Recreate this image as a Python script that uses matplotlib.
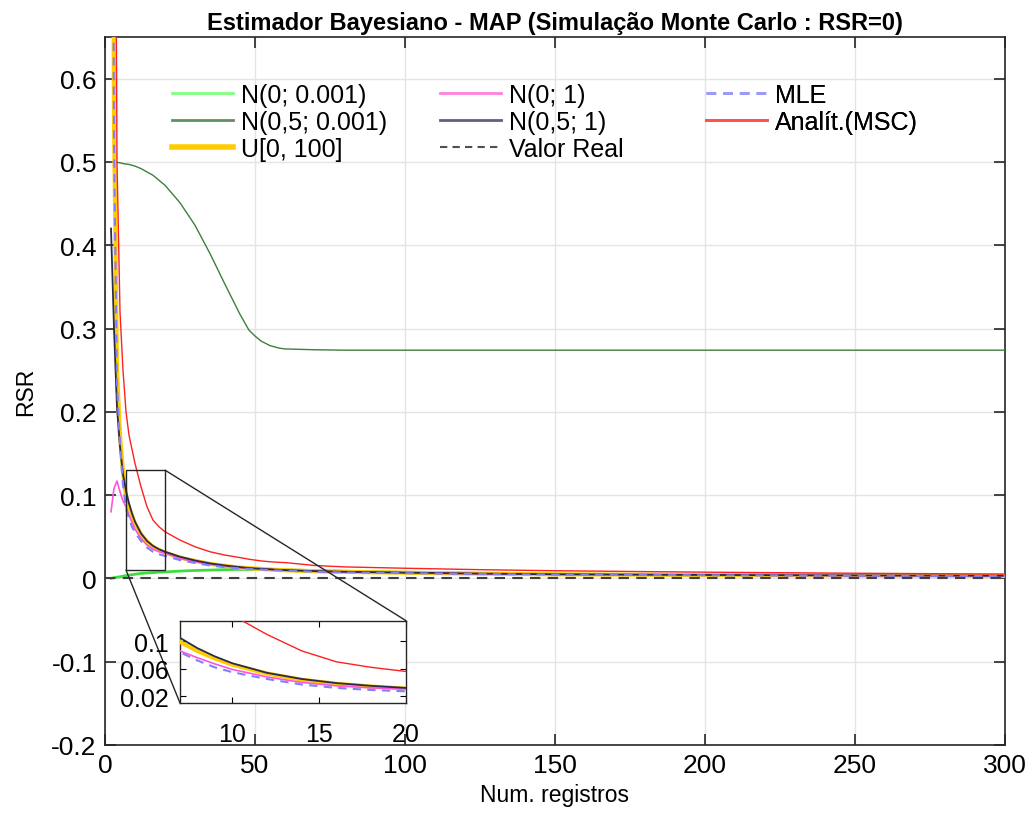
import numpy as np
import matplotlib
matplotlib.use("Agg")
import matplotlib.pyplot as plt
from matplotlib.patches import Rectangle, ConnectionPatch
from matplotlib.lines import Line2D

plt.rcParams['font.family'] = ['Liberation Sans', 'DejaVu Sans']

# ---------------- data ----------------
n_reg = [2, 3, 4, 5, 6, 7, 8, 9, 10, 12, 14, 16, 18, 20, 25, 30, 35, 40, 45, 48,
         50, 52, 55, 58, 60, 70, 80, 100, 125, 150, 200, 250, 300]

n0_0001 = [0.0, 0.0008, 0.0015, 0.002, 0.0027, 0.0033, 0.004, 0.0045, 0.005, 0.006,
           0.0065, 0.007, 0.0075, 0.0078, 0.0088, 0.0095, 0.010, 0.0105, 0.0108, 0.0108,
           0.0108, 0.0107, 0.0106, 0.0104, 0.0102, 0.0094, 0.0086, 0.0074, 0.0060, 0.0051,
           0.0042, 0.0036, 0.0032]
n05_0001 = [0.500, 0.500, 0.4995, 0.499, 0.498, 0.4975, 0.497, 0.496, 0.495, 0.492,
            0.488, 0.484, 0.478, 0.472, 0.451, 0.424, 0.390, 0.353, 0.317, 0.298,
            0.291, 0.285, 0.2795, 0.2765, 0.2755, 0.2745, 0.274, 0.274, 0.274, 0.274,
            0.274, 0.274, 0.274]
u_0_100 = [1.6, 0.55, 0.25, 0.172, 0.128, 0.099, 0.086, 0.075, 0.066, 0.053,
           0.044, 0.038, 0.034, 0.031, 0.025, 0.021, 0.0175, 0.015, 0.013, 0.0123,
           0.0118, 0.0114, 0.0107, 0.0101, 0.0098, 0.0086, 0.0078, 0.0068, 0.0057, 0.0049,
           0.0041, 0.0035, 0.0031]
n0_1 = [0.08, 0.108, 0.117, 0.104, 0.093, 0.086, 0.076, 0.067, 0.059, 0.048,
        0.040, 0.035, 0.032, 0.0305, 0.024, 0.020, 0.017, 0.0145, 0.0128, 0.012,
        0.0115, 0.0111, 0.0105, 0.0099, 0.0096, 0.0085, 0.0076, 0.0066, 0.0055, 0.0048,
        0.0040, 0.0034, 0.0030]
n05_1 = [0.42, 0.30, 0.205, 0.158, 0.125, 0.105, 0.090, 0.078, 0.068, 0.054,
         0.045, 0.039, 0.035, 0.032, 0.026, 0.0215, 0.018, 0.0155, 0.0135, 0.0125,
         0.012, 0.0116, 0.011, 0.0103, 0.010, 0.0088, 0.0080, 0.0070, 0.0058, 0.0050,
         0.0042, 0.0036, 0.0032]
mle = [1.6, 0.52, 0.235, 0.16, 0.112, 0.084, 0.072, 0.062, 0.055, 0.045,
       0.037, 0.032, 0.029, 0.027, 0.022, 0.0185, 0.0155, 0.0135, 0.012, 0.0114,
       0.011, 0.0106, 0.010, 0.0095, 0.0092, 0.0080, 0.0072, 0.0063, 0.0053, 0.0046,
       0.0038, 0.0033, 0.0029]
analit = [2.5, 1.25, 0.50, 0.32, 0.25, 0.20, 0.172, 0.155, 0.138, 0.110,
          0.086, 0.070, 0.062, 0.056, 0.046, 0.038, 0.032, 0.028, 0.025, 0.023,
          0.022, 0.021, 0.020, 0.0193, 0.019, 0.0155, 0.0138, 0.0122, 0.0105, 0.0092,
          0.0075, 0.0062, 0.0052]
valor_real = 0.0

title = 'Estimador Bayesiano - MAP (Simulação Monte Carlo : RSR=0)'
xlabel = 'Num. registros'
ylabel = 'RSR'
xticks = [0, 50, 100, 150, 200, 250, 300]
yticks = [-0.2, -0.1, 0, 0.1, 0.2, 0.3, 0.4, 0.5, 0.6]
ytick_labels = ['-0.2', '-0.1', '0', '0.1', '0.2', '0.3', '0.4', '0.5', '0.6']
ins_xticks = [10, 15, 20]
ins_yticks = [0.02, 0.06, 0.1]
ins_ytick_labels = ['0.02', '0.06', '0.1']

# ---------------- styles ----------------
styles = {
    'N(0; 0.001)': dict(color='#3ddc3d', lw=2.0),
    'N(0,5; 0.001)': dict(color='#3d7f3d', lw=1.0),
    'U[0, 100]': dict(color='#ffcc00', lw=3.0),
    'N(0; 1)': dict(color='#ff55dd', lw=1.2),
    'N(0,5; 1)': dict(color='#2a2a4a', lw=1.3),
    'Valor Real': dict(color='#404040', lw=1.5, ls=(0, (5, 3.5))),
    'MLE': dict(color='#8080ff', lw=1.5, ls=(0, (4, 3))),
    'Analít.(MSC)': dict(color='#ff2020', lw=1.0),
}
legend_styles = {
    'N(0; 0.001)': dict(color='#80ff80', lw=2.0),
    'N(0,5; 0.001)': dict(color='#609060', lw=2.0),
    'U[0, 100]': dict(color='#ffcc00', lw=4.0),
    'N(0; 1)': dict(color='#ff80e0', lw=2.0),
    'N(0,5; 1)': dict(color='#606080', lw=2.0),
    'Valor Real': dict(color='#505050', lw=1.5, ls=(0, (3.5, 2.5))),
    'MLE': dict(color='#9a9aff', lw=2.0, ls=(0, (3.5, 2.5))),
    'Analít.(MSC)': dict(color='#ff5050', lw=2.0),
}

series = {
    'N(0; 0.001)': n0_0001,
    'N(0,5; 0.001)': n05_0001,
    'U[0, 100]': u_0_100,
    'N(0; 1)': n0_1,
    'N(0,5; 1)': n05_1,
    'MLE': mle,
    'Analít.(MSC)': analit,
}
draw_order = ['N(0; 0.001)', 'N(0,5; 0.001)', 'U[0, 100]', 'N(0; 1)', 'N(0,5; 1)',
              'MLE', 'Analít.(MSC)']

fig = plt.figure(figsize=(10.32, 8.28), dpi=100)
ax = fig.add_axes([105/1032, 1-746/828, 900/1032, 708/828])

def draw(a):
    for k in draw_order:
        a.plot(n_reg, series[k], **styles[k], zorder=3)
    a.axhline(valor_real, **styles['Valor Real'], zorder=4)

draw(ax)
ax.set_xlim(0, 300)
ax.set_ylim(-0.2, 0.65)
ax.set_xticks(xticks)
ax.set_yticks(yticks)
ax.set_yticklabels(ytick_labels)
ax.grid(True, color='#e4e4e4', lw=1.0, zorder=0)
ax.set_axisbelow(True)
ax.tick_params(direction='in', length=8, width=1.2, labelsize=19, top=True, right=True,
               color='#262626', pad=6)
for s in ax.spines.values():
    s.set_color('#262626')
    s.set_linewidth(1.2)
ax.set_title(title, fontsize=17, fontweight='bold', pad=6)
ax.set_xlabel(xlabel, fontsize=16.5, labelpad=4)
ax.set_ylabel(ylabel, fontsize=16.5, labelpad=10)

# legend: three columns
cols = [['N(0; 0.001)', 'N(0,5; 0.001)', 'U[0, 100]'],
        ['N(0; 1)', 'N(0,5; 1)', 'Valor Real'],
        ['MLE', 'Analít.(MSC)']]
col_x = [(172-105)/900, (440-105)/900, (706-105)/900]
for i, c in enumerate(cols):
    hs = [Line2D([], [], **legend_styles[k]) for k in c]
    leg = ax.legend(hs, c, loc='upper left', bbox_to_anchor=(col_x[i], (746-84)/708),
                    frameon=False, fontsize=18, handlelength=2.45, handletextpad=0.32,
                    labelspacing=0.12, borderaxespad=0, borderpad=0)
    ax.add_artist(leg)

# inset
axins = ax.inset_axes([(180-105)/900, (746-704)/708, 226/900, 82.3/708])
draw(axins)
axins.set_xlim(7, 20)
axins.set_ylim(0.01, 0.13)
axins.set_xticks(ins_xticks)
axins.set_yticks(ins_yticks)
axins.set_yticklabels(ins_ytick_labels)
axins.tick_params(direction='in', length=4, width=0.8, labelsize=18, top=True, right=True,
                  pad=8)
axins.tick_params(axis='x', pad=14)
axins.set_zorder(5)
axins.patch.set_facecolor('white')
for s in axins.spines.values():
    s.set_color('#262626')
    s.set_linewidth(1.0)

x0, x1 = axins.get_xlim()
y0, y1 = axins.get_ylim()
ax.add_patch(Rectangle((x0, y0), x1 - x0, y1 - y0, fill=False, edgecolor='#262626',
                       lw=1.0, zorder=6))
for (xa, ya), (xb, yb) in [((x1, y1), (1, 1)), ((x0, y0), (0, 0))]:
    cp = ConnectionPatch(xyA=(xa, ya), coordsA=ax.transData, xyB=(xb, yb),
                         coordsB=axins.transAxes, color='#262626', lw=1.0, zorder=4)
    ax.add_artist(cp)

fig.savefig('out.png', dpi=100)
